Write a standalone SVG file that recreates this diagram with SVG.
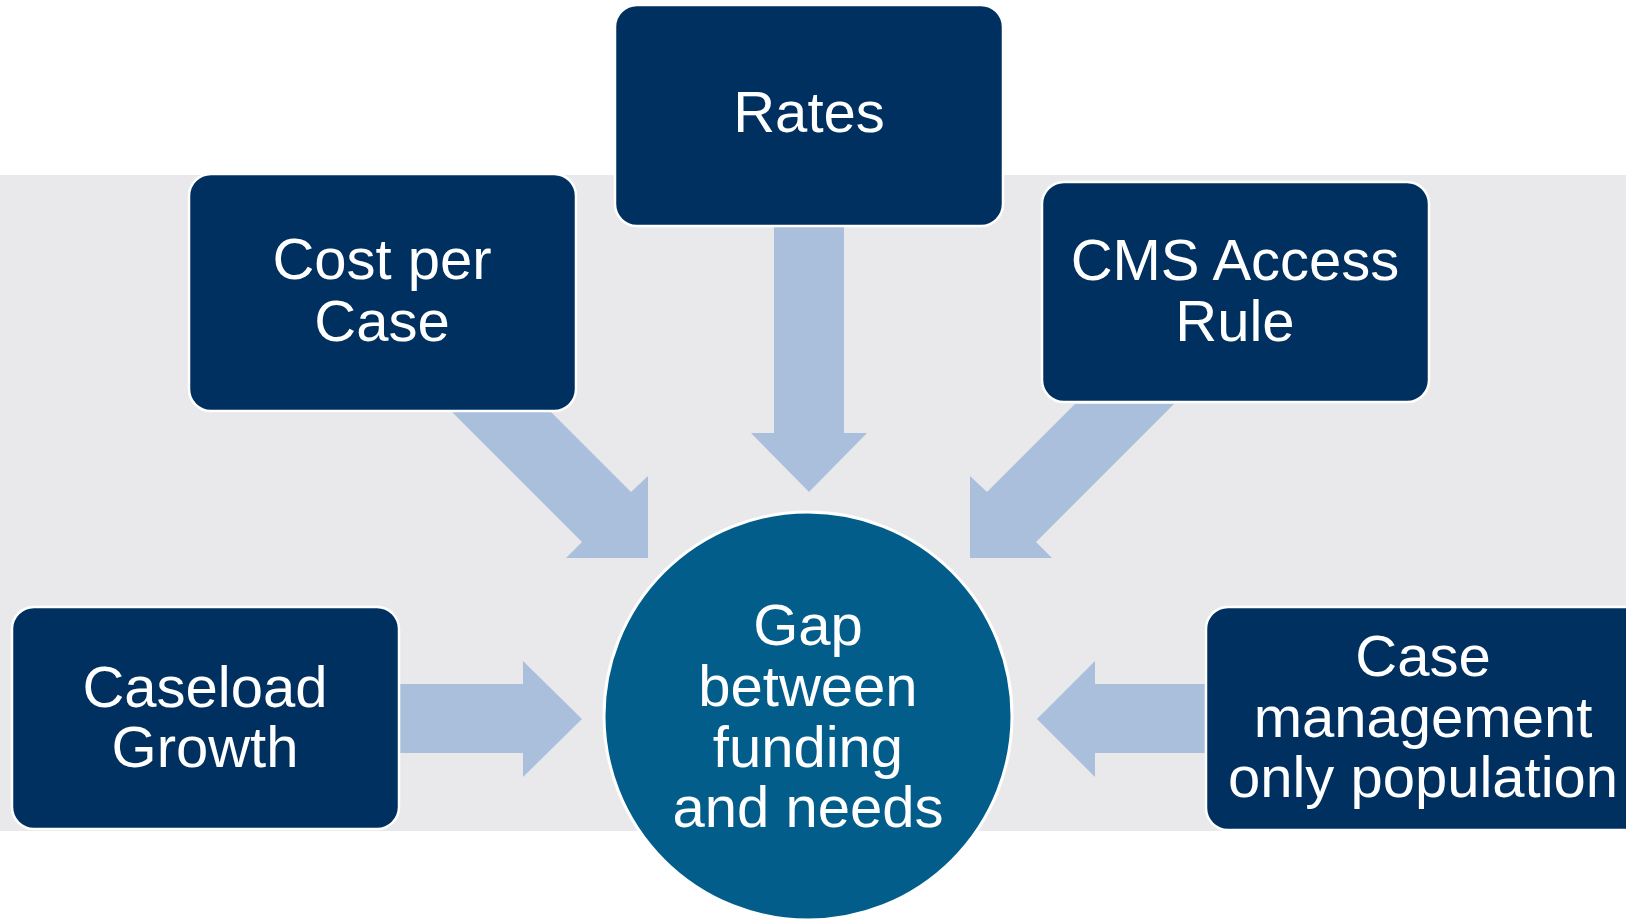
<svg xmlns="http://www.w3.org/2000/svg" width="1626" height="921" viewBox="0 0 1626 921">
<style>
.box{fill:#00305F;stroke:#FFFFFF;stroke-width:2.5}
.hub{fill:#035D8B;stroke:#FFFFFF;stroke-width:3}
.arrow{fill:#AABFDB}
.lbl{font-family:"Liberation Sans",Arial,sans-serif;font-size:58px;fill:#FFFFFF;text-anchor:middle}
</style>
<rect x="0" y="0" width="1626" height="921" fill="#FFFFFF"/>
<rect x="0" y="175" width="1626" height="656" fill="#E9E9EB"/>
<g id="connectors">
<polygon class="arrow" points="444,404 543,404 631,492 648,476 648,558 566,558 582,542"/>
<polygon class="arrow" points="1174,404 1075,404 987,492 970,476 970,558 1052,558 1036,542"/>
<polygon class="arrow" points="774,220 844,220 844,433 867,433 809,492 751,433 774,433"/>
<polygon class="arrow" points="396,684 523,684 523,661 582,719 523,777 523,753 396,753"/>
<polygon class="arrow" points="1210,684 1095,684 1095,661 1037,719 1095,777 1095,753 1210,753"/>
</g>
<g id="rates">
<rect class="box" x="615" y="5" width="388" height="221" rx="22"/>
<text class="lbl" x="809" y="132">Rates</text>
</g>
<g id="cost-per-case">
<rect class="box" x="189" y="174" width="387" height="237" rx="22"/>
<text class="lbl" x="382" y="279">Cost per</text>
<text class="lbl" x="382" y="341">Case</text>
</g>
<g id="cms-access-rule">
<rect class="box" x="1042" y="182" width="387" height="220" rx="22"/>
<text class="lbl" x="1235" y="280">CMS Access</text>
<text class="lbl" x="1235" y="341">Rule</text>
</g>
<g id="caseload-growth">
<rect class="box" x="12" y="607" width="387" height="222" rx="22"/>
<text class="lbl" x="205" y="707">Caseload</text>
<text class="lbl" x="205" y="767">Growth</text>
</g>
<g id="case-management">
<rect class="box" x="1206" y="607" width="440" height="223" rx="22"/>
<text class="lbl" x="1423" y="676">Case</text>
<text class="lbl" x="1423" y="737">management</text>
<text class="lbl" x="1423" y="797">only population</text>
</g>
<g id="gap">
<circle class="hub" cx="808" cy="716" r="204"/>
<text class="lbl" x="808" y="645">Gap</text>
<text class="lbl" x="808" y="706">between</text>
<text class="lbl" x="808" y="767">funding</text>
<text class="lbl" x="808" y="827">and needs</text>
</g>
</svg>
